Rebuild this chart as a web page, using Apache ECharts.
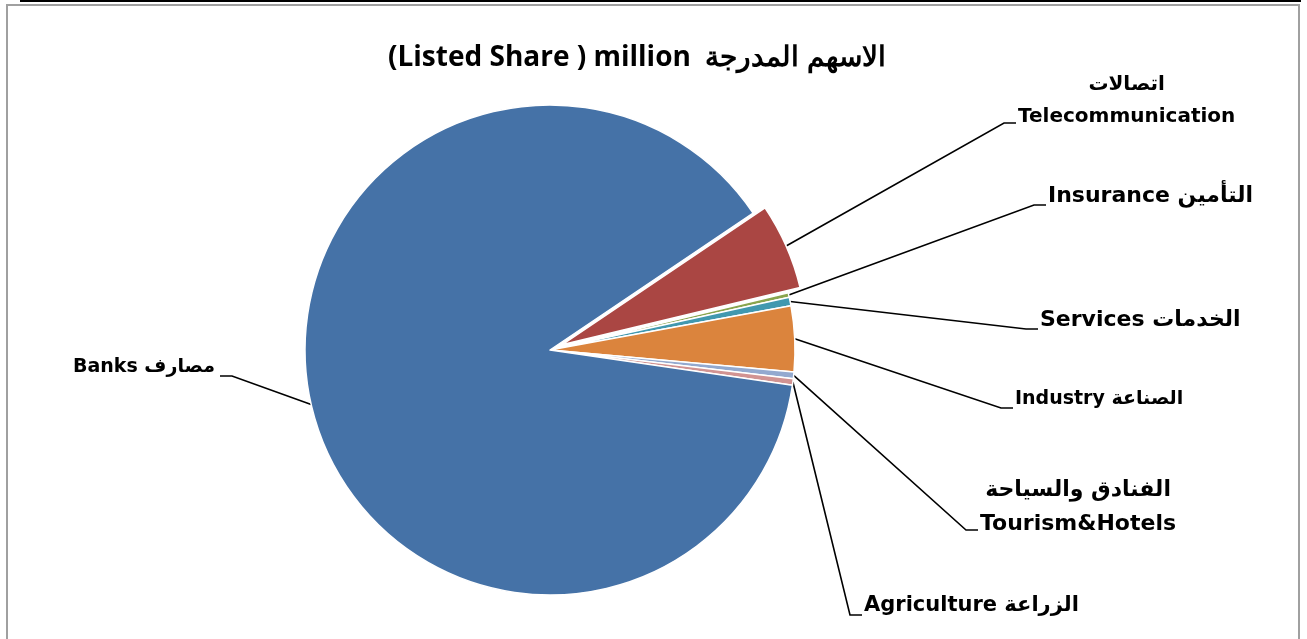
<!DOCTYPE html>
<html>
<head>
<meta charset="utf-8">
<script src="https://cdn.jsdelivr.net/npm/echarts@6/dist/echarts.min.js"></script>
<style>
  body { margin: 0; background: #fff; }
  #topline { position: absolute; left: 20px; top: 0; width: 1281px; height: 2px; background: #000; }
  #frame { position: absolute; left: 6px; top: 4px; width: 1294px; height: 650px; border: 2px solid #a0a0a0; box-sizing: border-box; }
  #main { position: absolute; left: 0; top: 0; width: 1307px; height: 639px; }
</style>
</head>
<body>
<div id="topline"></div>
<div id="frame"></div>
<div id="main"></div>
<script>
// sectors, clockwise from the exploded telecom slice
var sectorsEn = ['Telecommunication', 'Insurance', 'Services', 'Industry', 'Tourism&Hotels', 'Agriculture', 'Banks'];
var sectorsAr = ['اتصالات', 'التأمين', 'الخدمات', 'الصناعة', 'الفنادق والسياحة', 'الزراعة', 'مصارف'];
var listedShares = [205, 11, 20, 156, 16, 15, 3180];
var colors = ['#AA4643', '#89A54E', '#4198AF', '#DB843D', '#93A9CF', '#D19392', '#4572A7'];

// end of each leader line (elbow end) and font size of the label
var lineEnds = [[1016, 123], [1046, 205], [1038, 329], [1013, 408], [978, 530], [862, 615], [220, 376]];
var fontSizes = [20, 22, 22, 19, 22, 21, 19];
var twoLine = [true, false, false, false, true, false, false];

var explodeIndex = 0;
var explodeOffset = 13;
var startAngle = 34;
var cx = 550, cy = 350;

var dom = document.getElementById('main');
var myChart = echarts.init(dom);

// mid angle of the exploded slice, to shift its copy of the pie
var total = listedShares.reduce(function (a, b) { return a + b; }, 0);
var before = 0;
for (var k = 0; k < explodeIndex; k++) before += listedShares[k];
var midDeg = startAngle - (before + listedShares[explodeIndex] / 2) / total * 360;
var midRad = midDeg * Math.PI / 180;
var dx = Math.cos(midRad) * explodeOffset;
var dy = -Math.sin(midRad) * explodeOffset;

function labelText(i) {
    if (twoLine[i]) {
        return '{ar' + i + '|' + sectorsAr[i] + '}\n{en' + i + '|' + sectorsEn[i] + '}';
    }
    return '{en' + i + '|' + sectorsEn[i] + ' ' + sectorsAr[i] + '}';
}

function buildData(exploded) {
    return listedShares.map(function (v, i) {
        var visible = exploded ? i === explodeIndex : i !== explodeIndex;
        return {
            value: v,
            name: sectorsEn[i],
            itemStyle: visible
                ? { color: colors[i], borderColor: '#fff', borderWidth: 1.5 }
                : { color: 'rgba(0,0,0,0)', borderWidth: 0 },
            label: { show: visible, formatter: labelText(i) },
            labelLine: { show: visible }
        };
    });
}

var rich = {};
fontSizes.forEach(function (s, i) {
    rich['en' + i] = { fontSize: s, fontWeight: 'bold', fontFamily: 'DejaVu Sans', color: '#000', lineHeight: s + 12 };
    rich['ar' + i] = { fontSize: s, fontWeight: 'bold', fontFamily: 'DejaVu Sans', color: '#000', lineHeight: s + 12 };
});

function layoutLabel(params) {
    var i = params.dataIndex;
    var end = lineEnds[i];
    var rect = params.labelRect;
    var isLeft = end[0] < cx;
    var elbow = isLeft ? end[0] + 12 : end[0] - 12;
    var lx = isLeft ? end[0] - 5 - rect.width / 2 : end[0] + 2 + rect.width / 2;
    var ly = end[1] - 9 - (twoLine[i] ? rect.height / 4 : 0);
    var pts = params.labelLinePoints;
    var p0 = pts ? pts[0] : [cx, cy];
    return {
        x: lx,
        y: ly,
        align: 'center',
        verticalAlign: 'middle',
        labelLinePoints: [p0, [elbow, end[1]], [end[0], end[1]]]
    };
}

function pieSeries(exploded) {
    return {
        type: 'pie',
        center: exploded ? [cx + dx, cy + dy] : [cx, cy],
        radius: 245,
        startAngle: startAngle,
        clockwise: true,
        emphasis: { disabled: true },
        silent: true,
        label: {
            position: 'outside',
            rich: rich,
            align: 'center'
        },
        labelLine: {
            length: 20,
            length2: 10,
            lineStyle: { color: '#000', width: 1.6 }
        },
        labelLayout: layoutLabel,
        data: buildData(exploded)
    };
}

option = {
    animation: false,
    title: {
        text: '(Listed Share ) million  الاسهم المدرجة',
        left: 383,
        top: 39,
        textStyle: { fontFamily: 'Open Sans', fontSize: 28, fontWeight: 'bold', color: '#000' }
    },
    series: [pieSeries(false), pieSeries(true)]
};
if (option && typeof option === "object") {
    myChart.setOption(option, true);
}
</script>
</body>
</html>
